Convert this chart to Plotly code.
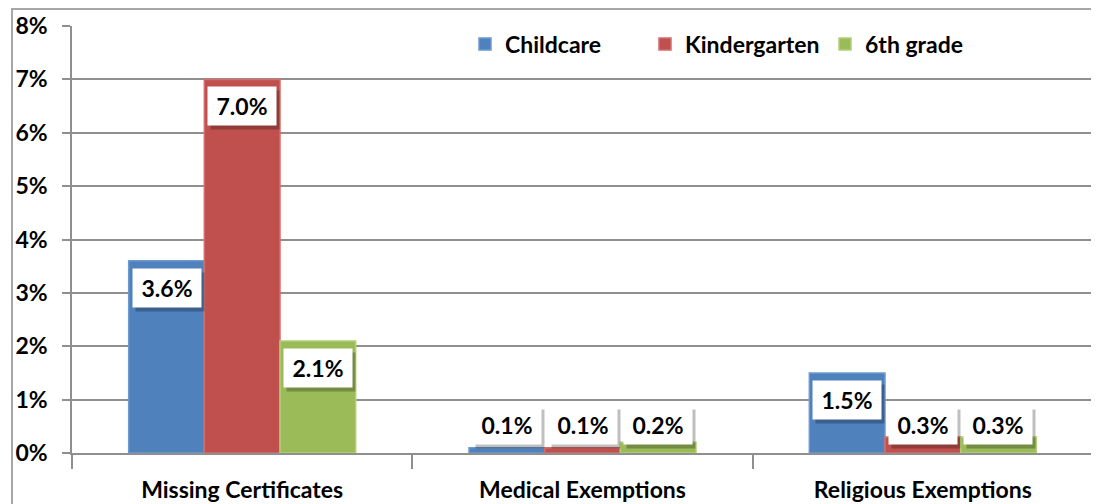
import plotly.graph_objects as go

# data
categories = ["Missing Certificates", "Medical Exemptions", "Religious Exemptions"]
series_names = ["Childcare", "Kindergarten", "6th grade"]
childcare = [3.6, 0.1, 1.5]
kindergarten = [7.0, 0.1, 0.3]
sixth_grade = [2.1, 0.2, 0.3]
y_ticks = [0, 1, 2, 3, 4, 5, 6, 7, 8]
y_tick_labels = ["0%", "1%", "2%", "3%", "4%", "5%", "6%", "7%", "8%"]

colors = ["#4F81BD", "#C0504D", "#9BBB59"]
edge_colors = ["#6E9AD0", "#D36E6B", "#B2CF78"]

# the page body keeps its default 8px margin, so the figure is drawn 8px smaller
W, H = 1091, 496
M = dict(l=64, r=6, t=18, b=51)
BARGAP = 0.333
FONT = "Lato, 'Open Sans', sans-serif"
FS = 23

fig = go.Figure()
all_values = [childcare, kindergarten, sixth_grade]
for name, vals, c, ec in zip(series_names, all_values, colors, edge_colors):
    fig.add_trace(go.Bar(
        name=name, x=categories, y=vals,
        marker=dict(color=c, line=dict(color=ec, width=1.5)),
        hoverinfo="x+y+name",
    ))

# value labels in white boxes with a soft shadow, like the Excel original
plot_w = W - M["l"] - M["r"]
plot_h = H - M["t"] - M["b"]
px_per_unit = plot_h / (y_ticks[-1] - y_ticks[0])
slot = plot_w / len(categories) * (1 - BARGAP) / len(series_names)
box_w, box_h = 64, 34
annotations = []
for i, vals in enumerate(all_values):
    xs = (i - (len(series_names) - 1) / 2) * slot
    for cat, v in zip(categories, vals):
        if v * px_per_unit > box_h + 20:
            y, anchor, ys = v, "top", -7
        else:
            y, anchor, ys = 0, "bottom", 8
        common = dict(x=cat, y=y, xref="x", yref="y", yanchor=anchor,
                      showarrow=False, width=box_w, height=box_h, borderpad=2,
                      font=dict(family=FONT, size=FS, color="black", weight="bold"))
        annotations.append(dict(common, text=" ", xshift=xs + 3, yshift=ys - 4,
                                bgcolor="rgba(0,0,0,0.25)"))
        annotations.append(dict(common, text="%.1f%%" % v, xshift=xs, yshift=ys,
                                bgcolor="white"))

# outer chart frame (cropped at the bottom in the original)
frame = dict(type="rect", xref="paper", yref="paper",
             x0=(4 - M["l"]) / plot_w, x1=(1085 - M["l"]) / plot_w,
             y0=-0.3, y1=1 + (M["t"] - 1) / plot_h,
             line=dict(color="#A6A6A6", width=2), layer="above")

fig.update_layout(
    width=W, height=H, margin=M,
    barmode="group", bargap=BARGAP, bargroupgap=0,
    plot_bgcolor="white", paper_bgcolor="white",
    font=dict(family=FONT, size=FS, color="black", weight="bold"),
    annotations=annotations, shapes=[frame],
    legend=dict(orientation="h", x=(457 - M["l"]) / plot_w, xanchor="left",
                y=1 - 18 / plot_h, yanchor="middle",
                entrywidth=135, entrywidthmode="pixels",
                font=dict(family=FONT, size=FS, color="black", weight="bold"),
                bgcolor="rgba(0,0,0,0)", traceorder="normal"),
    yaxis=dict(range=[y_ticks[0], y_ticks[-1]], tickvals=y_ticks, ticktext=y_tick_labels,
               showgrid=True, gridcolor="#8F8F8F", gridwidth=1.5,
               showline=True, linecolor="#8F8F8F", linewidth=1.5,
               ticks="outside", ticklen=8, tickcolor="#8F8F8F", tickwidth=1.5,
               ticklabelstandoff=10, zeroline=False, automargin=False,
               tickfont=dict(family=FONT, size=FS, color="black", weight="bold")),
    xaxis=dict(showline=True, linecolor="#8F8F8F", linewidth=1.5,
               ticks="outside", tickson="boundaries", ticklen=14,
               tickcolor="#8F8F8F", tickwidth=1.5,
               ticklabelstandoff=16, automargin=False,
               tickfont=dict(family=FONT, size=FS, color="black", weight="bold")),
)

fig.write_html("out.html")
